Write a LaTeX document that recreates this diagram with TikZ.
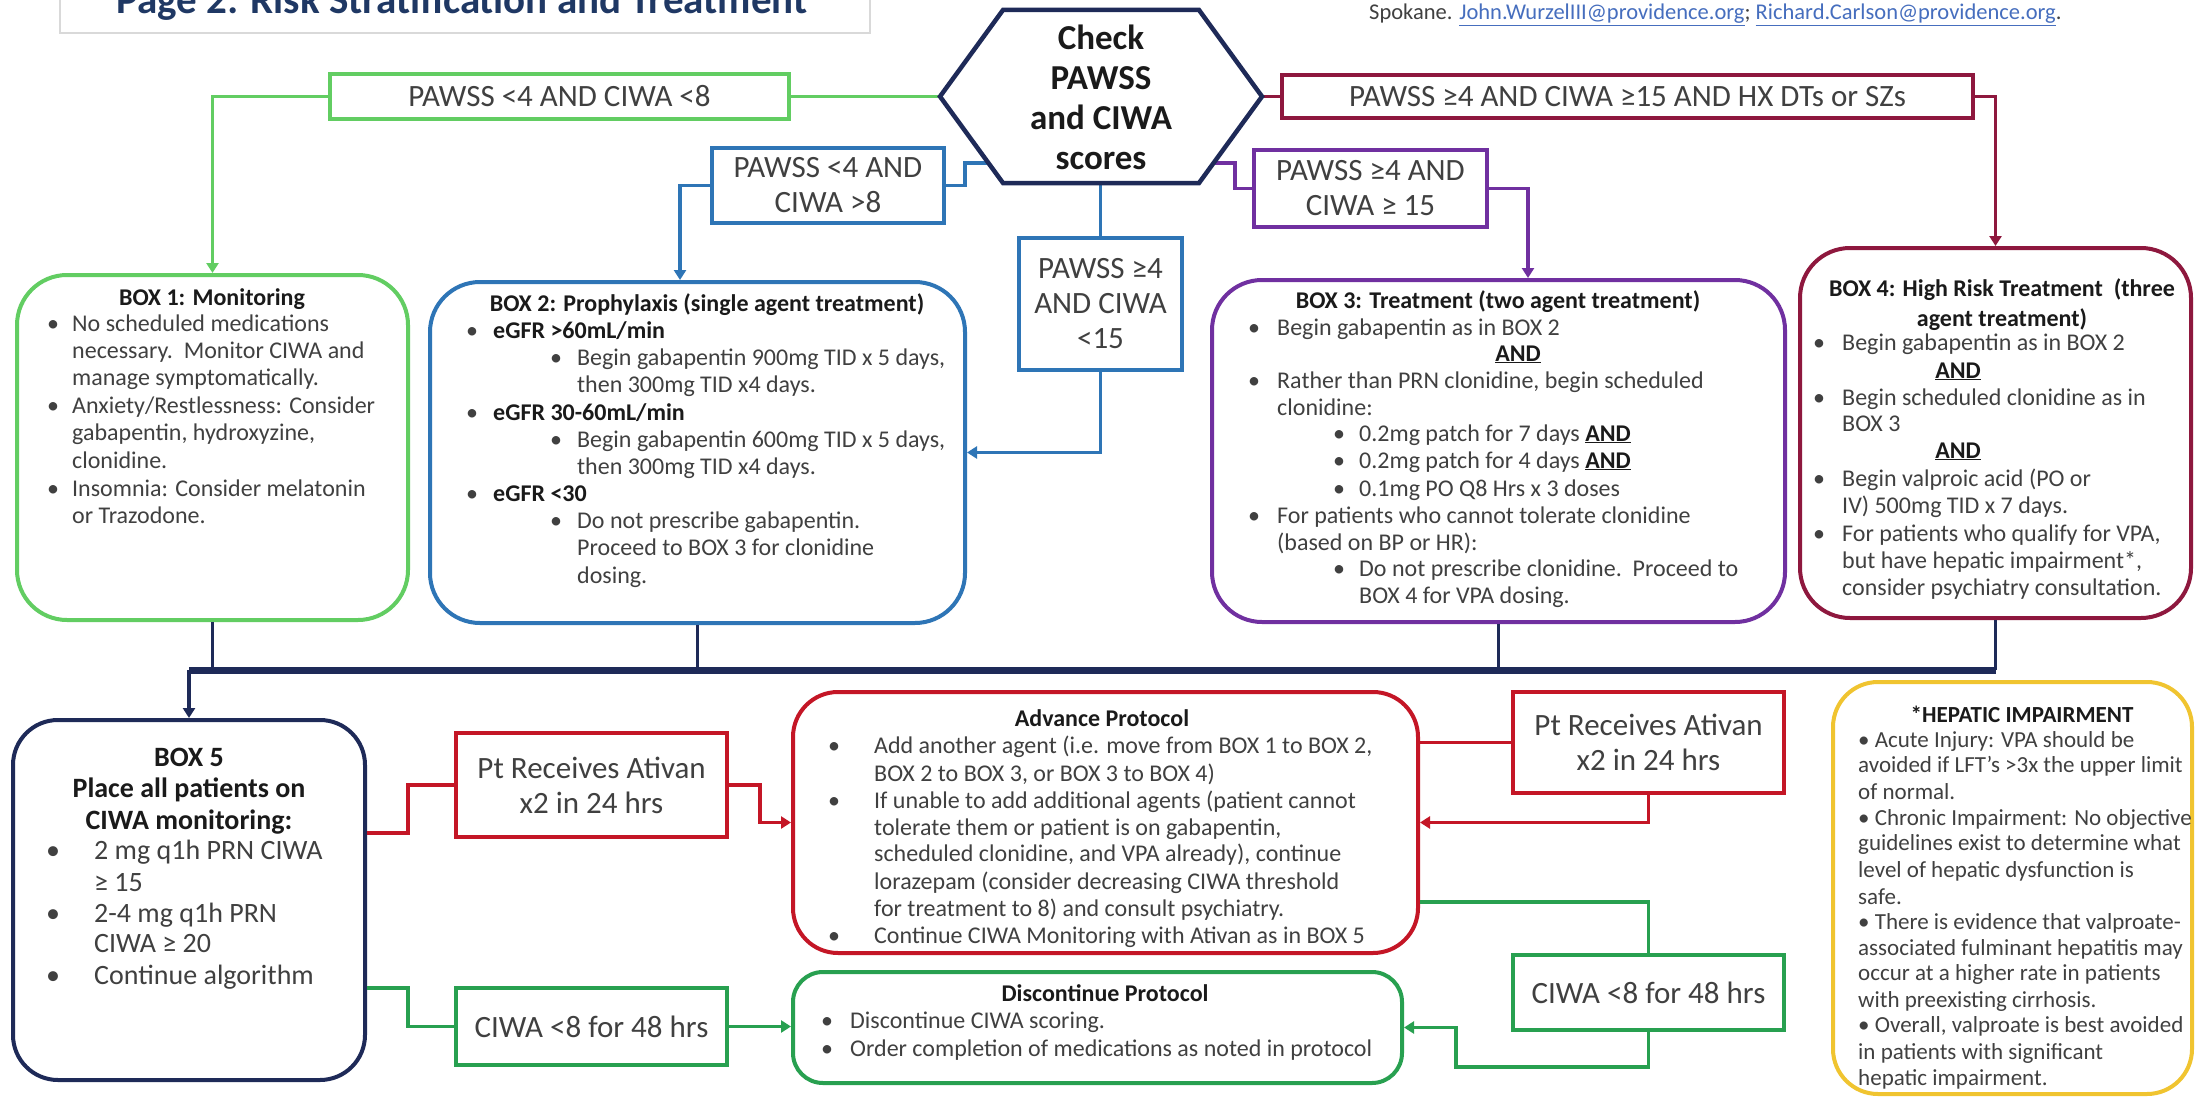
\documentclass[tikz,border=0pt]{standalone}
\usepackage{fontspec}
\setmainfont{Carlito}
\usetikzlibrary{arrows.meta}
\definecolor{cLG}{RGB}{98,205,98}
\definecolor{cBL}{RGB}{46,117,182}
\definecolor{cPU}{RGB}{112,48,160}
\definecolor{cMR}{RGB}{142,24,62}
\definecolor{cNV}{RGB}{30,42,88}
\definecolor{cRD}{RGB}{196,22,38}
\definecolor{cGR}{RGB}{40,160,80}
\definecolor{cGD}{RGB}{240,196,48}
\definecolor{cTX}{RGB}{64,64,64}
\definecolor{cTT}{RGB}{26,26,26}
\definecolor{cTitle}{RGB}{31,56,100}
\definecolor{cLink}{RGB}{70,110,190}
\newcommand\fbody{\fontsize{24}{27}\selectfont}
\newcommand\flbl{\fontsize{31}{35}\selectfont}
\newcommand\ffive{\fontsize{28}{31.5}\selectfont}
\newcommand\fhep{\fontsize{23}{25.6}\selectfont}
\newcounter{tl}
\newcommand\tline[4][]{\stepcounter{tl}\node[txt,#1] (t\thetl) at (#2,#3) {#4};}
\newcommand\bline[5][]{\tline[#1]{#2}{#4}{\makebox[\dimexpr#3pt-#2pt\relax][l]{•}#5}}
\newcommand\tttl[4][]{\stepcounter{tl}\node[ttl,#1] (t\thetl) at (#2,#3) {#4};}
\tikzset{
  txt/.style={inner sep=0pt, anchor=base west, font=\fbody, text=cTX},
  ttl/.style={inner sep=0pt, anchor=base, font=\fbody\bfseries, text=cTT},
  rbox/.style={draw=#1, line width=4pt, rounded corners=45pt, inner sep=0pt, fill=white},
  lbox/.style={draw=#1, line width=4pt, inner sep=0pt, align=center, font=\flbl, text=cTX, fill=white},
  conn/.style={draw=#1, line width=3.5pt},
  endarrow/.style={-{Triangle[length=10pt,width=12pt]}},
  bus/.style={draw=cNV, line width=7pt},
}
\begin{document}
\begin{tikzpicture}[x=1pt,y=-1pt]
\useasboundingbox (0,0) rectangle (2195,1097);
\clip (0,0) rectangle (2195,1097);
\fill[white] (0,0) rectangle (2195,1097);

% title
\node[draw=gray!30, line width=2pt, minimum width=810pt, minimum height=80pt, inner sep=0pt] (tbox) at (465,-7) {};
\node[anchor=base west, inner sep=0pt, font=\fontsize{41}{45}\selectfont\bfseries, text=cTitle] (title) at (116,14) {Page 2: Risk Stratification and Treatment};
\node[anchor=base west, inner sep=0pt, font=\fontsize{22.5}{26}\selectfont, text=cTX] (auth) at (1369,20) {Spokane. \textcolor{cLink}{\underline{John.WurzelIII@providence.org}}; \textcolor{cLink}{\underline{Richard.Carlson@providence.org}}.};

% big boxes
\node[rbox=cLG, minimum width=391pt, minimum height=345pt, rounded corners=50pt] (box1) at (212.5,447.5) {};
\node[rbox=cBL, minimum width=535pt, minimum height=341pt, rounded corners=50pt] (box2) at (697.5,452.5) {};
\node[rbox=cPU, minimum width=573pt, minimum height=342pt, rounded corners=50pt] (box3) at (1498.5,451) {};
\node[rbox=cMR, minimum width=391pt, minimum height=370pt, rounded corners=50pt] (box4) at (1995.5,433) {};
\node[rbox=cNV, minimum width=352pt, minimum height=360pt] (box5) at (189,900) {};
\node[rbox=cRD, minimum width=625pt, minimum height=261pt] (adv) at (1105.5,822.5) {};
\node[rbox=cGR, minimum width=609pt, minimum height=111pt, rounded corners=30pt] (disc) at (1097.5,1027.5) {};
\node[rbox=cGD, minimum width=359pt, minimum height=412pt] (hep) at (2012.5,888) {};

% label boxes
\node[lbox=cLG, minimum width=459pt, minimum height=45pt] (gl) at (559.5,96.5) {PAWSS <4 AND CIWA <8};
\node[lbox=cMR, minimum width=691pt, minimum height=43pt] (rl) at (1627.5,96.5) {PAWSS ≥4 AND CIWA ≥15 AND HX DTs or SZs};
\node[lbox=cBL, minimum width=232pt, minimum height=75pt] (bl) at (828,185.5) {PAWSS <4 AND\\CIWA >8};
\node[lbox=cPU, minimum width=233pt, minimum height=77pt] (pl) at (1370.5,188.5) {PAWSS ≥4 AND\\CIWA ≥ 15};
\node[lbox=cBL, minimum width=163pt, minimum height=132pt] (ml) at (1100.5,304) {PAWSS ≥4\\AND CIWA\\<15};
\node[lbox=cRD, minimum width=271pt, minimum height=104pt] (ra1) at (591.5,785) {Pt Receives Ativan\\x2 in 24 hrs};
\node[lbox=cGR, minimum width=271pt, minimum height=77pt] (ga1) at (591.5,1026.5) {CIWA <8 for 48 hrs};
\node[lbox=cRD, minimum width=271pt, minimum height=101pt] (ra2) at (1648.5,742.5) {Pt Receives Ativan\\x2 in 24 hrs};
\node[lbox=cGR, minimum width=271pt, minimum height=75pt] (ga2) at (1648.5,992.5) {CIWA <8 for 48 hrs};

% hexagon coordinates
\coordinate (hL) at (940,96.5);
\coordinate (hTL) at (1003,10);
\coordinate (hTR) at (1199,10);
\coordinate (hR) at (1262,96.5);
\coordinate (hBR) at (1199,183);
\coordinate (hBL) at (1003,183);
\coordinate (hxbl) at (988.4,163);
\coordinate (hxbr) at (1213.6,163);
\coordinate (hxB) at (1100.5,183);

% top connectors
\draw[conn=cLG, endarrow] (gl.west) -| (box1.north);
\draw[conn=cLG] (gl.east) -- (hL);
\draw[conn=cMR] (hR) -- (rl.west);
\draw[conn=cMR, endarrow] (rl.east) -| (box4.north);
\coordinate (bj) at (965,163);
\draw[conn=cBL] (bl.east) -| (bj) -- (hxbl);
\draw[conn=cBL, endarrow] (bl.west) -| ([xshift=-17.5pt]box2.north);
\coordinate (pj) at (1235,163);
\draw[conn=cPU] (hxbr) -- (pj) |- (pl.west);
\draw[conn=cPU, endarrow] (pl.east) -| ([xshift=29.5pt]box3.north);
\draw[conn=cBL] (hxB) -- (ml.north);
\draw[conn=cBL, endarrow] (ml.south) |- (box2.east);

% hexagon
\draw[draw=cNV, line width=4.5pt, fill=white] (hL) -- (hTL) -- (hTR) -- (hR) -- (hBR) -- (hBL) -- cycle;
\node[font=\fontsize{35}{40}\selectfont\bfseries, text=cTT, align=center, inner sep=0pt] (hex) at (1101,97) {Check\\PAWSS\\and CIWA\\scores};

% bus
\coordinate (busL) at (189,670);
\coordinate (busR) at (1995.5,670);
\draw[conn=cNV] (box1.south) -- (box1.south |- busL);
\draw[conn=cNV] (box2.south) -- (box2.south |- busL);
\draw[conn=cNV] (box3.south) -- (box3.south |- busL);
\draw[conn=cNV] (box4.south) -- (box4.south |- busL);
\draw[bus] (busL) -- (busR);
\draw[conn=cNV, endarrow] (busL) -- (box5.north);

% lower connectors
\coordinate (jr1) at (408,833);
\draw[conn=cRD] (box5.east |- jr1) -- (jr1) |- (ra1.west);
\coordinate (jr2) at (760,800);
\draw[conn=cRD, endarrow] (ra1.east) -| (jr2) |- (adv.west);
\coordinate (jg1) at (408,988);
\draw[conn=cGR] (box5.east |- jg1) -- (jg1) |- (ga1.west);
\draw[conn=cGR, endarrow] (ga1.east) -- (ga1.east -| disc.west);
\draw[conn=cRD] (ra2.west -| adv.east) -- (ra2.west);
\draw[conn=cRD, endarrow] (ra2.south) |- (adv.east);
\coordinate (jg3) at (1500,902);
\draw[conn=cGR] (jg3 -| adv.east) -| (ga2.north);
\coordinate (jg4) at (1456,1067);
\draw[conn=cGR, endarrow] (ga2.south) |- (jg4) |- (disc.east);

% BOX 1 text
\tttl{212}{305}{BOX 1: Monitoring}
\bline{47}{72}{331}{No scheduled medications}
\tline{72}{358}{necessary.\ \ Monitor CIWA and}
\tline{72}{385}{manage symptomatically.}
\bline{47}{72}{413}{Anxiety/Restlessness: Consider}
\tline{72}{440}{gabapentin, hydroxyzine,}
\tline{72}{468}{clonidine.}
\bline{47}{72}{496}{Insomnia: Consider melatonin}
\tline{72}{523}{or Trazodone.}

% BOX 2 text
\tttl{707}{311}{BOX 2: Prophylaxis (single agent treatment)}
\bline{466}{493}{338}{\textcolor{cTT}{\textbf{eGFR >60mL/min}}}
\bline{550}{577}{365}{Begin gabapentin 900mg TID x 5 days,}
\tline{577}{392}{then 300mg TID x4 days.}
\bline{466}{493}{420}{\textcolor{cTT}{\textbf{eGFR 30-60mL/min}}}
\bline{550}{577}{447}{Begin gabapentin 600mg TID x 5 days,}
\tline{577}{474}{then 300mg TID x4 days.}
\bline{466}{493}{501}{\textcolor{cTT}{\textbf{eGFR <30}}}
\bline{550}{577}{528}{Do not prescribe gabapentin.}
\tline{577}{555}{Proceed to BOX 3 for clonidine}
\tline{577}{583}{dosing.}

% BOX 3 text
\tttl{1498}{308}{BOX 3: Treatment (two agent treatment)}
\bline{1248}{1277}{335}{Begin gabapentin as in BOX 2}
\tttl{1518}{361}{\underline{AND}}
\bline{1248}{1277}{388}{Rather than PRN clonidine, begin scheduled}
\tline{1277}{415}{clonidine:}
\bline{1333}{1359}{441}{0.2mg patch for 7 days \textcolor{cTT}{\textbf{\underline{AND}}}}
\bline{1333}{1359}{468}{0.2mg patch for 4 days \textcolor{cTT}{\textbf{\underline{AND}}}}
\bline{1333}{1359}{496}{0.1mg PO Q8 Hrs x 3 doses}
\bline{1248}{1277}{523}{For patients who cannot tolerate clonidine}
\tline{1277}{550}{(based on BP or HR):}
\bline{1333}{1359}{576}{Do not prescribe clonidine.\ \ Proceed to}
\tline{1359}{603}{BOX 4 for VPA dosing.}

% BOX 4 text
\tttl{2002}{296}{BOX 4: High Risk Treatment\ \ (three}
\tttl{2002}{326}{agent treatment)}
\bline{1813}{1842}{350}{Begin gabapentin as in BOX 2}
\tttl{1958}{378}{\underline{AND}}
\bline{1813}{1842}{405}{Begin scheduled clonidine as in}
\tline{1842}{431}{BOX 3}
\tttl{1958}{458}{\underline{AND}}
\bline{1813}{1842}{486}{Begin valproic acid (PO or}
\tline{1842}{513}{IV) 500mg TID x 7 days.}
\bline{1813}{1842}{541}{For patients who qualify for VPA,}
\tline{1842}{568}{but have hepatic impairment*,}
\tline{1842}{595}{consider psychiatry consultation.}

% BOX 5 text
\tttl[font=\ffive\bfseries]{189}{766}{BOX 5}
\tttl[font=\ffive\bfseries]{189}{797}{Place all patients on}
\tttl[font=\ffive\bfseries]{189}{829}{CIWA monitoring:}
\bline[font=\ffive]{46}{94}{859}{2 mg q1h PRN CIWA}
\tline[font=\ffive]{94}{891}{≥ 15}
\bline[font=\ffive]{46}{94}{922}{2-4 mg q1h PRN}
\tline[font=\ffive]{94}{952}{CIWA ≥ 20}
\bline[font=\ffive]{46}{94}{984}{Continue algorithm}

% Advance protocol
\tttl{1102}{726}{Advance Protocol}
\bline{828}{874}{753}{Add another agent (i.e. move from BOX 1 to BOX 2,}
\tline{874}{781}{BOX 2 to BOX 3, or BOX 3 to BOX 4)}
\bline{828}{874}{808}{If unable to add additional agents (patient cannot}
\tline{874}{835}{tolerate them or patient is on gabapentin,}
\tline{874}{861}{scheduled clonidine, and VPA already), continue}
\tline{874}{889}{lorazepam (consider decreasing CIWA threshold}
\tline{874}{916}{for treatment to 8) and consult psychiatry.}
\bline{828}{874}{943}{Continue CIWA Monitoring with Ativan as in BOX 5}

% Discontinue protocol
\tttl{1105}{1001}{Discontinue Protocol}
\bline{821}{850}{1028}{Discontinue CIWA scoring.}
\bline{821}{850}{1056}{Order completion of medications as noted in protocol}

% Hepatic
\tttl[font=\fhep\bfseries]{2022}{722}{*HEPATIC IMPAIRMENT}
\tline[font=\fhep]{1858}{747}{• Acute Injury: VPA should be}
\tline[font=\fhep]{1858}{772}{avoided if LFT’s >3x the upper limit}
\tline[font=\fhep]{1858}{799}{of normal.}
\tline[font=\fhep]{1858}{825}{• Chronic Impairment: No objective}
\tline[font=\fhep]{1858}{850}{guidelines exist to determine what}
\tline[font=\fhep]{1858}{877}{level of hepatic dysfunction is}
\tline[font=\fhep]{1858}{904}{safe.}
\tline[font=\fhep]{1858}{929}{• There is evidence that valproate-}
\tline[font=\fhep]{1858}{955}{associated fulminant hepatitis may}
\tline[font=\fhep]{1858}{980}{occur at a higher rate in patients}
\tline[font=\fhep]{1858}{1007}{with preexisting cirrhosis.}
\tline[font=\fhep]{1858}{1032}{• Overall, valproate is best avoided}
\tline[font=\fhep]{1858}{1059}{in patients with significant}
\tline[font=\fhep]{1858}{1085}{hepatic impairment.}
\end{tikzpicture}
\end{document}
